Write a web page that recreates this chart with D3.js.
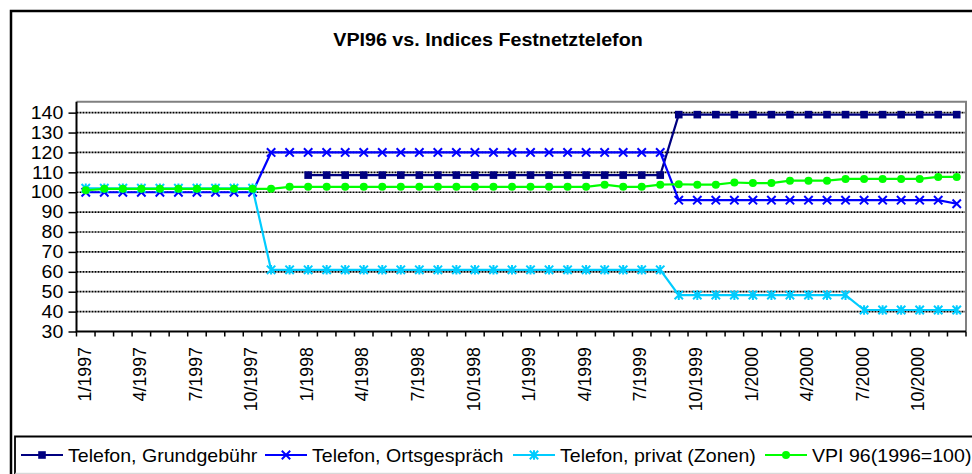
<!DOCTYPE html>
<html>
<head>
<meta charset="utf-8">
<script src="https://cdn.jsdelivr.net/npm/d3@7"></script>
<style>
  body { margin: 0; background: #fff; }
  text { font-family: Arial, "Liberation Sans", sans-serif; fill: #000; }
</style>
</head>
<body>
<svg id="chart" width="972" height="474"></svg>
<script>
const years = [1997, 1998, 1999, 2000];
const categories = years.flatMap(function (y) {
  return d3.range(1, 13).map(function (m) { return m + "/" + y; });
});
const yTicks = [30, 40, 50, 60, 70, 80, 90, 100, 110, 120, 130, 140];

const grundgebuehr = [
  null, null, null, null, null, null, null, null, null, null, null, null,
  108.6, 108.6, 108.6, 108.6, 108.6, 108.6, 108.6, 108.6, 108.6, 108.6, 108.6, 108.6,
  108.6, 108.6, 108.6, 108.6, 108.6, 108.6, 108.6, 108.6,
  139, 139, 139, 139, 139, 139, 139, 139, 139, 139, 139, 139, 139, 139, 139, 139
];
const ortsgespraech = [
  100, 100, 100, 100, 100, 100, 100, 100, 100, 100,
  120, 120, 120, 120, 120, 120, 120, 120, 120, 120, 120,
  120, 120, 120, 120, 120, 120, 120, 120, 120, 120, 120,
  96, 96, 96, 96, 96, 96, 96, 96, 96, 96, 96, 96, 96, 96, 96,
  94.2
];
const privatZonen = [
  102, 102, 102, 102, 102, 102, 102, 102, 102, 102,
  61, 61, 61, 61, 61, 61, 61, 61, 61, 61, 61,
  61, 61, 61, 61, 61, 61, 61, 61, 61, 61, 61,
  48.3, 48.3, 48.3, 48.3, 48.3, 48.3, 48.3, 48.3, 48.3, 48.3,
  40.8, 40.8, 40.8, 40.8, 40.8, 40.8
];
const vpi96 = [
  101.0, 101.7, 101.7, 101.7, 101.7, 101.7, 101.7, 101.7, 101.7, 101.7, 101.7,
  102.7, 102.7, 102.7, 102.7, 102.7, 102.7, 102.7, 102.7, 102.7, 102.7, 102.7,
  102.7, 102.7, 102.7, 102.7, 102.7, 102.7,
  103.8, 102.7, 102.7, 103.8, 104.0, 103.8, 103.8, 104.9, 104.6, 104.6,
  105.8, 105.8, 105.8, 106.7, 106.7, 106.7, 106.7, 106.7, 107.7, 107.7
];

const seriesNames = ["Telefon, Grundgebühr", "Telefon, Ortsgespräch", "Telefon, privat (Zonen)", "VPI 96(1996=100)"];
const seriesValues = [grundgebuehr, ortsgespraech, privatZonen, vpi96];
const seriesColors = ["#000080", "#0000ff", "#00ccff", "#00ff00"];
const seriesMarkers = ["square", "x", "star", "circle"];

const svg = d3.select("#chart");
const plot = { left: 76.5, right: 966, top: 101.7, bottom: 331.5 };

const x = d3.scaleBand().domain(categories).range([plot.left, plot.right]);
const y = d3.scaleLinear().domain([30, 145.5]).range([plot.bottom, plot.top]);
const cx = function (i) { return x(categories[i]) + x.bandwidth() / 2; };

// outer chart frame (runs off the right/bottom edge)
svg.append("rect").attr("x", 11).attr("y", 11).attr("width", 990).attr("height", 500)
  .attr("fill", "none").attr("stroke", "#000").attr("stroke-width", 2.5);

// title
svg.append("g").attr("transform", "translate(488,45.5) scale(1.1,1)")
  .append("text").attr("text-anchor", "middle")
  .style("font-size", "17.9px").style("font-weight", "bold")
  .text("VPI96 vs. Indices Festnetztelefon");

// dotted gridlines
svg.append("g").selectAll("line").data(yTicks.filter(function (d) { return d > 30; }))
  .enter().append("line")
  .attr("x1", plot.left).attr("x2", plot.right)
  .attr("y1", function (d) { return y(d); }).attr("y2", function (d) { return y(d); })
  .attr("stroke", "#000").attr("stroke-width", 1.7).attr("stroke-dasharray", "2,1");

// plot border: grey top/right, black axes
svg.append("path")
  .attr("d", "M" + plot.left + "," + plot.top + "H" + plot.right + "V" + plot.bottom)
  .attr("fill", "none").attr("stroke", "#808080").attr("stroke-width", 2);
svg.append("path")
  .attr("d", "M" + plot.left + "," + plot.top + "V" + plot.bottom + "H" + plot.right)
  .attr("fill", "none").attr("stroke", "#000").attr("stroke-width", 2);

// y axis
const yAxis = svg.append("g").attr("transform", "translate(" + plot.left + ",0)")
  .call(d3.axisLeft(y).tickValues(yTicks).tickSize(8).tickPadding(4));
yAxis.select(".domain").remove();
yAxis.selectAll(".tick line").attr("stroke", "#000").attr("stroke-width", 1.5);
yAxis.selectAll(".tick text").attr("transform", "scale(1.1,1)")
  .style("font-size", "17.8px").style("font-family", "Arial, 'Liberation Sans', sans-serif");

// x axis: ticks between categories, labels every quarter
const bounds = categories.map(function (c) { return x(c); }).concat([plot.right]);
svg.append("g").selectAll("line").data(bounds).enter().append("line")
  .attr("x1", function (d) { return d; }).attr("x2", function (d) { return d; })
  .attr("y1", plot.bottom).attr("y2", plot.bottom + 5)
  .attr("stroke", "#000").attr("stroke-width", 1.5);

svg.append("g").selectAll("text")
  .data(categories.filter(function (c, i) { return i % 3 === 0; }))
  .enter().append("text")
  .attr("transform", function (c) {
    return "translate(" + (x(c) + x.bandwidth() / 2 - 1.5) + "," + (plot.bottom + 15.5) + ") rotate(-90)";
  })
  .attr("text-anchor", "end").attr("dy", "0.35em")
  .style("font-size", "17.8px")
  .text(function (c) { return c; });

// marker shapes
function drawMarker(sel, type, color) {
  if (type === "square") {
    sel.append("rect").attr("x", -3.8).attr("y", -3.8).attr("width", 7.6).attr("height", 7.6)
      .attr("fill", color);
  } else if (type === "x") {
    sel.append("path").attr("d", "M-4.2,-4.2L4.2,4.2M-4.2,4.2L4.2,-4.2")
      .attr("stroke", color).attr("stroke-width", 2).attr("fill", "none");
  } else if (type === "star") {
    sel.append("path").attr("d", "M-4.2,-4.2L4.2,4.2M-4.2,4.2L4.2,-4.2M0,-4.8V4.8")
      .attr("stroke", color).attr("stroke-width", 2).attr("fill", "none");
  } else {
    sel.append("circle").attr("r", 4).attr("fill", color);
  }
}

const line = d3.line()
  .defined(function (d) { return d != null; })
  .x(function (d, i) { return cx(i); })
  .y(function (d) { return y(d); });

seriesValues.forEach(function (values, s) {
  const g = svg.append("g");
  g.append("path").datum(values).attr("d", line)
    .attr("fill", "none").attr("stroke", seriesColors[s]).attr("stroke-width", 2.2);
  values.forEach(function (v, i) {
    if (v == null) return;
    drawMarker(g.append("g").attr("transform", "translate(" + cx(i) + "," + y(v) + ")"),
      seriesMarkers[s], seriesColors[s]);
  });
});

// legend
const legend = svg.append("g");
legend.append("path").attr("d", "M15,474V436.5H990")
  .attr("fill", "none").attr("stroke", "#000").attr("stroke-width", 1.8);
legend.append("line").attr("x1", 15).attr("x2", 990).attr("y1", 473.3).attr("y2", 473.3)
  .attr("stroke", "#cfcfcf").attr("stroke-width", 1);

const legendX = [21, 265, 513, 765];
seriesNames.forEach(function (name, s) {
  const item = legend.append("g").attr("transform", "translate(" + legendX[s] + ",455)");
  item.append("line").attr("x1", 0).attr("x2", 42)
    .attr("stroke", seriesColors[s]).attr("stroke-width", 2);
  drawMarker(item.append("g").attr("transform", "translate(21,0)"), seriesMarkers[s], seriesColors[s]);
  item.append("g").attr("transform", "translate(47,6.5) scale(1.1,1)")
    .append("text").style("font-size", "17.8px").text(name);
});
</script>
</body>
</html>
